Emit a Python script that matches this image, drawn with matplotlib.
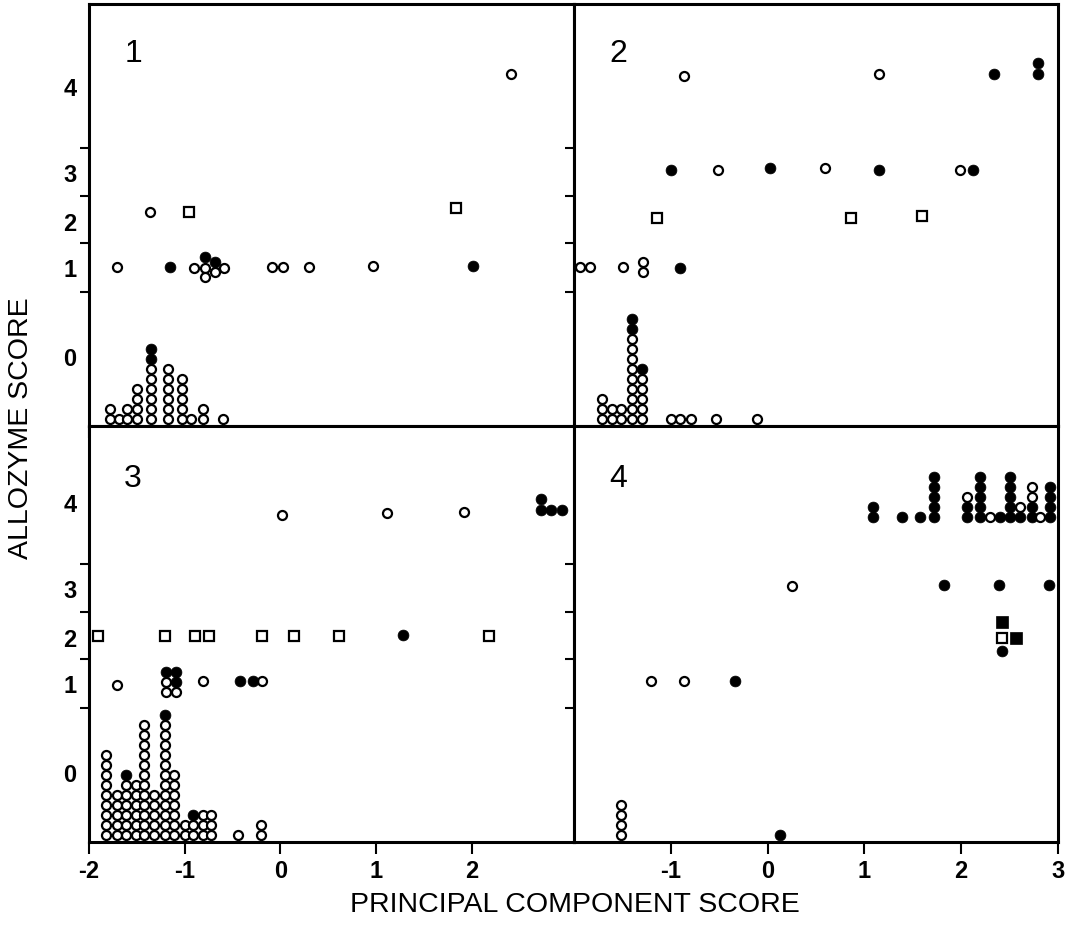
import matplotlib
matplotlib.use("Agg")
import matplotlib.pyplot as plt
from matplotlib.font_manager import FontProperties

plt.rcParams["axes.unicode_minus"] = False

# ---------------- data (x = principal component score, y = plotting height) ----------------
# y units: allozyme-score rows on the panel's vertical scale; stacks are counts of tied points
y_boundaries = [13.4, 18.3, 23.0, 27.85]
y_label_pos = [7.0, 15.9, 20.5, 25.4, 34.0]
y_labels = ["0", "1", "2", "3", "4"]
left_xticks = [-2, -1, 0, 1, 2]
right_xticks = [-1, 0, 1, 2, 3]
panel_names = ["1", "2", "3", "4"]

# Panel 1
p1_stack_x = [-1.78, -1.69, -1.60, -1.50, -1.35, -1.17, -1.03, -0.93, -0.81, -0.60]
p1_stack_open = [2, 1, 2, 4, 6, 6, 5, 1, 2, 1]
p1_stack_filled = [0, 0, 0, 0, 2, 0, 0, 0, 0, 0]
p1_open_x = [-1.71, -0.90, -0.79, -0.59, -0.79, -0.68, -0.09, 0.03, 0.30, 0.97, -1.36, 2.41]
p1_open_y = [15.9, 15.8, 15.8, 15.8, 14.9, 15.4, 15.9, 15.9, 15.9, 16.0, 21.4, 35.2]
p1_filled_x = [-1.15, -0.79, -0.68, 2.01]
p1_filled_y = [15.9, 16.9, 16.4, 16.0]
p1_square_x = [-0.95, 1.84]
p1_square_y = [21.4, 21.8]

# Panel 2
p2_stack_x = [-1.71, -1.61, -1.51, -1.40, -1.30, -1.00, -0.90, -0.79, -0.53, -0.11]
p2_stack_open = [3, 2, 2, 9, 5, 1, 1, 1, 1, 1]
p2_stack_filled = [0, 0, 0, 2, 1, 0, 0, 0, 0, 0]
p2_open_x = [-1.94, -1.83, -1.49, -1.29, -1.29, -0.51, 0.59, 1.99, -0.86, 1.15]
p2_open_y = [15.9, 15.9, 15.9, 16.4, 15.4, 25.6, 25.8, 25.6, 35.0, 35.2]
p2_filled_x = [-0.90, -1.00, 0.02, 1.15, 2.12, 2.34, 2.79, 2.79]
p2_filled_y = [15.8, 25.6, 25.8, 25.6, 25.6, 35.2, 36.3, 35.2]
p2_square_x = [-1.14, 0.86, 1.59]
p2_square_y = [20.8, 20.8, 21.0]

# Panel 3
p3_stack_x = [-1.82, -1.71, -1.61, -1.51, -1.42, -1.32, -1.21, -1.11, -1.00, -0.91, -0.81, -0.72, -0.44, -0.20]
p3_stack_open = [9, 5, 6, 6, 12, 5, 12, 7, 2, 2, 3, 3, 1, 2]
p3_stack_filled = [0, 0, 1, 0, 0, 0, 1, 0, 0, 1, 0, 0, 0, 0]
p3_open_x = [-1.71, -1.20, -1.20, -1.09, -0.81, -0.19, 0.02, 1.12, 1.92]
p3_open_y = [15.7, 16.0, 15.0, 15.0, 16.1, 16.1, 32.7, 32.9, 33.0]
p3_filled_x = [-1.20, -1.09, -1.09, -0.42, -0.29, 1.28, 2.73, 2.73, 2.83, 2.94]
p3_filled_y = [17.0, 17.0, 16.0, 16.1, 16.1, 20.7, 34.3, 33.2, 33.2, 33.2]
p3_square_x = [-1.91, -1.21, -0.89, -0.75, -0.19, 0.14, 0.61, 2.18]
p3_square_y = [20.6, 20.6, 20.6, 20.6, 20.6, 20.6, 20.6, 20.6]

# Panel 4
p4_stack_x = [-1.51, 0.13]
p4_stack_open = [4, 0]
p4_stack_filled = [0, 1]
p4_open_x = [-1.20, -0.86, 0.25]
p4_open_y = [16.1, 16.1, 25.6]
p4_filled_x = [-0.34, 1.82, 2.39, 2.91, 2.42]
p4_filled_y = [16.1, 25.7, 25.7, 25.7, 19.1]
p4_square_x = [2.42]
p4_square_y = [20.4]
p4_fsquare_x = [2.42, 2.57]
p4_fsquare_y = [22.0, 20.4]
p4_high_x = [1.09, 1.39, 1.57, 1.72, 2.06, 2.19, 2.30, 2.40, 2.50, 2.61, 2.73, 2.81, 2.92]
p4_high_filled = [2, 1, 1, 5, 2, 5, 0, 1, 5, 1, 2, 0, 4]
p4_high_open = [0, 0, 0, 0, 1, 0, 1, 0, 0, 1, 2, 1, 0]

# ---------------- styling ----------------
W, H = 1075, 937
fig = plt.figure(figsize=(W / 100, H / 100), dpi=100)
fig.patch.set_facecolor("white")

x_left, x_mid, x_right = 89, 574, 1058
y_top, y_mid, y_bot = 5, 427, 843

def rect(px0, px1, py0, py1):
    return [px0 / W, 1 - py1 / H, (px1 - px0) / W, (py1 - py0) / H]

axes = [
    fig.add_axes(rect(x_left, x_mid, y_top, y_mid)),
    fig.add_axes(rect(x_mid, x_right, y_top, y_mid)),
    fig.add_axes(rect(x_left, x_mid, y_mid, y_bot)),
    fig.add_axes(rect(x_mid, x_right, y_mid, y_bot)),
]
heights = [(y_mid - y_top) / 10, (y_mid - y_top) / 10, (y_bot - y_mid) / 10, (y_bot - y_mid) / 10]
xlims = [(-2, 3.07), (-2, 3.0), (-2, 3.07), (-2, 3.0)]

OPEN = dict(marker="o", ms=6.5, mfc="white", mec="black", mew=1.6, ls="none")
FILLED = dict(marker="o", ms=7.8, mfc="black", mec="black", mew=0.5, ls="none")
SQUARE = dict(marker="s", ms=7.8, mfc="white", mec="black", mew=1.6, ls="none")
FSQUARE = dict(marker="s", ms=8.8, mfc="black", mec="black", mew=0.5, ls="none")
STACK_BASE = 0.7
STEP = 1.0

def draw_stacks(ax, xs, n_open, n_filled, base, filled_first=False):
    for x, no, nf in zip(xs, n_open, n_filled):
        seq = (["f"] * nf + ["o"] * no) if filled_first else (["o"] * no + ["f"] * nf)
        for i, kind in enumerate(seq):
            ax.plot([x], [base + i * STEP], **(FILLED if kind == "f" else OPEN))

panels = [
    (p1_stack_x, p1_stack_open, p1_stack_filled, p1_open_x, p1_open_y, p1_filled_x, p1_filled_y, p1_square_x, p1_square_y),
    (p2_stack_x, p2_stack_open, p2_stack_filled, p2_open_x, p2_open_y, p2_filled_x, p2_filled_y, p2_square_x, p2_square_y),
    (p3_stack_x, p3_stack_open, p3_stack_filled, p3_open_x, p3_open_y, p3_filled_x, p3_filled_y, p3_square_x, p3_square_y),
    (p4_stack_x, p4_stack_open, p4_stack_filled, p4_open_x, p4_open_y, p4_filled_x, p4_filled_y, p4_square_x, p4_square_y),
]

tick_fp = FontProperties(family="Liberation Sans", weight="bold", size=17)

for k, ax in enumerate(axes):
    sx, so, sf, ox, oy, fx, fy, qx, qy = panels[k]
    ax.set_xlim(*xlims[k])
    ax.set_ylim(0, heights[k])
    ax.plot(qx, qy, **SQUARE)
    draw_stacks(ax, sx, so, sf, STACK_BASE)
    ax.plot(ox, oy, **OPEN)
    ax.plot(fx, fy, **FILLED)
    if k == 3:
        ax.plot(p4_fsquare_x, p4_fsquare_y, **FSQUARE)
        draw_stacks(ax, p4_high_x, p4_high_open, p4_high_filled, 32.5, filled_first=True)

    for sp in ax.spines.values():
        sp.set_linewidth(2.2)
    left = k in (0, 2)
    bottom = k in (2, 3)
    ax.set_xticks(left_xticks if left else right_xticks)
    ax.tick_params(axis="x", which="major", direction="out", length=8.5, width=1.5,
                   pad=4, labelbottom=bottom)
    ax.set_yticks(y_boundaries)
    ax.tick_params(axis="y", which="major", direction="out", length=6.7, width=1.5, labelleft=False)
    if bottom:
        for lab in ax.get_xticklabels():
            lab.set_fontproperties(tick_fp)
    if left:
        ax.set_yticks(y_label_pos, minor=True)
        ax.set_yticklabels(y_labels, minor=True)
        for lab in ax.get_yticklabels(minor=True):
            lab.set_fontproperties(tick_fp)
        ax.tick_params(axis="y", which="minor", length=0, pad=9)
    ax.text(0.091, 0.885 if k < 2 else 0.875, panel_names[k], transform=ax.transAxes,
            ha="center", va="center", fontsize=23, family="Liberation Sans")

fig.text(0.0195, 0.543, "ALLOZYME SCORE", rotation=90, ha="center", va="center",
         fontsize=20.5, family="Liberation Sans")
fig.text(0.535, 0.034, "PRINCIPAL COMPONENT SCORE", ha="center", va="center",
         fontsize=20.5, family="Liberation Sans")

fig.savefig("out.png", dpi=100, facecolor="white")
